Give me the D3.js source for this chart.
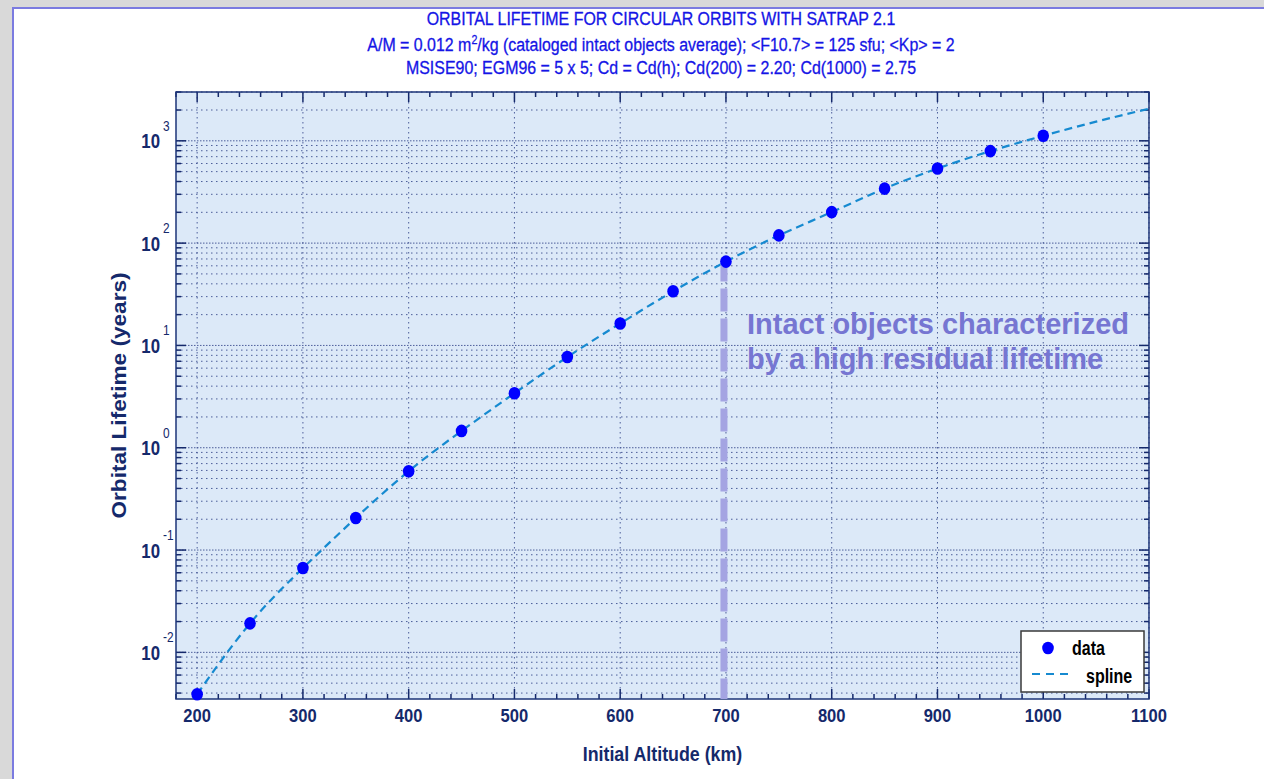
<!DOCTYPE html>
<html>
<head>
<meta charset="utf-8">
<script src="https://cdn.jsdelivr.net/npm/d3@7"></script>
<style>
	body { margin: 0; background: #d9d9d9; }
	svg { display: block; font-family: "Liberation Sans", Arial, sans-serif; }
</style>
</head>
<body>
<div class="content"></div>
<script>
var svgWidth = 1264;  // The width of the SVG element.
var svgHeight = 779;  // The height of the SVG element.

// Data points.
var altitudes = [200, 250, 300, 350, 400, 450, 500, 550, 600, 650, 700, 750, 800, 850, 900, 950, 1000];
var lifetimes = [0.0039, 0.0192, 0.0667, 0.206, 0.59, 1.46, 3.41, 7.7, 16.4, 33.8, 66, 119, 201, 341, 536, 793, 1119];

// The spline goes on past the last data point.
var splineAlt = [200, 250, 300, 350, 400, 450, 500, 550, 600, 650, 700, 750, 800, 850, 900, 950, 1000, 1050, 1100];
var splineLife = [0.0039, 0.0192, 0.0667, 0.206, 0.59, 1.46, 3.41, 7.7, 16.4, 33.8, 66, 119, 201, 341, 536, 793, 1119, 1540, 2060];

var xTickValues = [200, 300, 400, 500, 600, 700, 800, 900, 1000, 1100];
var yTickExponents = [-2, -1, 0, 1, 2, 3];

var titleLines = [
	"ORBITAL LIFETIME FOR CIRCULAR ORBITS WITH SATRAP 2.1",
	"A/M = 0.012 m|2|/kg (cataloged intact objects average); <F10.7> = 125 sfu; <Kp> = 2",
	"MSISE90; EGM96 = 5 x 5; Cd = Cd(h); Cd(200) = 2.20; Cd(1000) = 2.75"
];
var noteLines = ["Intact objects characterized", "by a high residual lifetime"];
var noteAltitude = 700;
var noteLifetime = 66;

var plot = {left: 176, right: 1149, top: 92, bottom: 699};
var navy = "#15296b";

var svg = d3.select(".content")
	.append("svg")
	.attr("width", svgWidth)
	.attr("height", svgHeight);

// Squeeze a text element to a fraction of its natural width.
function condense(sel, factor)
{
	sel.each(function() {
		var w = this.getComputedTextLength();
		d3.select(this).attr("textLength", w * factor).attr("lengthAdjust", "spacingAndGlyphs");
	});
}

// White page with a blue edge.
svg.append("rect")
	.attr("x", 13).attr("y", 8)
	.attr("width", svgWidth).attr("height", svgHeight)
	.attr("fill", "#ffffff")
	.attr("stroke", "#7b7be0")
	.attr("stroke-width", 2);

// Scales.
var x = d3.scaleLinear().domain([180, 1100]).range([plot.left, plot.right]);
var y = d3.scaleLog().domain([0.0035, 3000]).range([plot.bottom, plot.top]);

// Plot background.
svg.append("rect")
	.attr("x", plot.left).attr("y", plot.top)
	.attr("width", plot.right - plot.left).attr("height", plot.bottom - plot.top)
	.attr("fill", "#dce9f8");

// Minor log values inside the domain.
var yMinor = [];
for (var e = -3; e <= 3; e++)
{
	for (var k = 1; k <= 9; k++)
	{
		var v = k * Math.pow(10, e);
		if (v >= y.domain()[0] && v <= y.domain()[1]) yMinor.push({v: v, major: k === 1});
	}
}
var xMinor = d3.range(180, 1101, 20);

// Horizontal grid lines.
svg.append("g").selectAll("line")
	.data(yMinor)
	.enter().append("line")
	.attr("x1", plot.left).attr("x2", plot.right)
	.attr("y1", function(d) { return y(d.v); })
	.attr("y2", function(d) { return y(d.v); })
	.attr("stroke", "#34478a")
	.attr("stroke-opacity", 0.85)
	.attr("stroke-width", 1)
	.attr("stroke-dasharray", function(d) { return d.major ? "1.5,1.5" : "1.5,3.5"; });

// Vertical grid lines.
svg.append("g").selectAll("line")
	.data(xTickValues)
	.enter().append("line")
	.attr("x1", function(d) { return x(d); })
	.attr("x2", function(d) { return x(d); })
	.attr("y1", plot.top).attr("y2", plot.bottom)
	.attr("stroke", "#34478a")
	.attr("stroke-opacity", 0.85)
	.attr("stroke-dasharray", "1.5,3.5");

// Ticks on all four sides, pointing inwards.
var ticks = svg.append("g").attr("stroke", navy).attr("stroke-width", 1.5);
ticks.selectAll(".yl").data(yMinor).enter().append("line")
	.attr("x1", plot.left).attr("x2", function(d) { return plot.left + (d.major ? 10 : 5); })
	.attr("y1", function(d) { return y(d.v); }).attr("y2", function(d) { return y(d.v); });
ticks.selectAll(".yr").data(yMinor).enter().append("line")
	.attr("x1", plot.right).attr("x2", function(d) { return plot.right - (d.major ? 10 : 5); })
	.attr("y1", function(d) { return y(d.v); }).attr("y2", function(d) { return y(d.v); });
ticks.selectAll(".xt").data(xMinor).enter().append("line")
	.attr("x1", function(d) { return x(d); }).attr("x2", function(d) { return x(d); })
	.attr("y1", plot.top).attr("y2", function(d) { return plot.top + (d % 100 === 0 ? 10 : 5); });
ticks.selectAll(".xb").data(xMinor).enter().append("line")
	.attr("x1", function(d) { return x(d); }).attr("x2", function(d) { return x(d); })
	.attr("y1", plot.bottom).attr("y2", function(d) { return plot.bottom - (d % 100 === 0 ? 10 : 5); });

// Plot frame.
svg.append("rect")
	.attr("x", plot.left).attr("y", plot.top)
	.attr("width", plot.right - plot.left).attr("height", plot.bottom - plot.top)
	.attr("fill", "none")
	.attr("stroke", "#1d3478")
	.attr("stroke-width", 1.5);

// X tick labels.
svg.append("g").selectAll("text")
	.data(xTickValues)
	.enter().append("text")
	.attr("x", function(d) { return x(d); })
	.attr("y", 722)
	.attr("text-anchor", "middle")
	.attr("font-size", 18)
	.attr("font-weight", "bold")
	.attr("fill", navy)
	.text(function(d) { return d; })
	.call(condense, 0.92);

// Y tick labels as 10 with a raised exponent.
var yLabels = svg.append("g").selectAll("g")
	.data(yTickExponents)
	.enter().append("g")
	.attr("transform", function(d) { return "translate(160," + y(Math.pow(10, d)) + ")"; });
yLabels.append("text")
	.attr("y", 7.5)
	.attr("text-anchor", "end")
	.attr("font-size", 21)
	.attr("font-weight", "bold")
	.attr("fill", navy)
	.text("10")
	.call(condense, 0.8);
yLabels.append("text")
	.attr("x", 3)
	.attr("y", -10)
	.attr("font-size", 14)
	.attr("fill", navy)
	.text(function(d) { return d; })
	.call(condense, 0.85);

// Axis titles.
svg.append("text")
	.attr("x", (plot.left + plot.right) / 2)
	.attr("y", 761)
	.attr("text-anchor", "middle")
	.attr("font-size", 20)
	.attr("font-weight", "bold")
	.attr("fill", navy)
	.text("Initial Altitude (km)")
	.call(condense, 0.89);

svg.append("text")
	.attr("transform", "translate(126," + ((plot.top + plot.bottom) / 2) + ") rotate(-90)")
	.attr("text-anchor", "middle")
	.attr("font-size", 21)
	.attr("font-weight", "bold")
	.attr("fill", navy)
	.attr("textLength", 246)
	.attr("lengthAdjust", "spacingAndGlyphs")
	.text("Orbital Lifetime (years)");

// Chart title, three lines.
var titleY = [25, 51, 74];
var title = svg.append("g").selectAll("text")
	.data(titleLines)
	.enter().append("text")
	.attr("x", 661)
	.attr("y", function(d, i) { return titleY[i]; })
	.attr("text-anchor", "middle")
	.attr("font-size", 18)
	.attr("fill", "#1414e6")
	.attr("stroke", "#1414e6")
	.attr("stroke-width", 0.3);
title.each(function(d) {
	var parts = d.split("|");
	var t = d3.select(this);
	parts.forEach(function(p, i) {
		var span = t.append("tspan").text(p);
		if (i === 1) span.attr("font-size", 12).attr("dy", -7);
		if (i === 2) span.attr("dy", 7);
	});
});
title.call(condense, 0.885);

// Spline through the points.
var line = d3.line()
	.x(function(d, i) { return x(splineAlt[i]); })
	.y(function(d) { return y(d); })
	.curve(d3.curveNatural);
svg.append("path")
	.attr("d", line(splineLife))
	.attr("fill", "none")
	.attr("stroke", "#168ad0")
	.attr("stroke-width", 2.2)
	.attr("stroke-dasharray", "8,5");

// Dashed marker dropping from the 700 km point.
svg.append("line")
	.attr("x1", x(noteAltitude) - 2).attr("x2", x(noteAltitude) - 2)
	.attr("y1", y(noteLifetime) - 3).attr("y2", plot.bottom)
	.attr("stroke", "#a4a4e2")
	.attr("stroke-width", 7)
	.attr("stroke-dasharray", "23,7");

// Data points.
svg.append("g").selectAll("ellipse")
	.data(lifetimes)
	.enter().append("ellipse")
	.attr("cx", function(d, i) { return x(altitudes[i]); })
	.attr("cy", function(d) { return y(d); })
	.attr("rx", 5.8)
	.attr("ry", 6.3)
	.attr("fill", "#0000ff");

// Annotation text.
svg.append("g").selectAll("text")
	.data(noteLines)
	.enter().append("text")
	.attr("x", 747)
	.attr("y", function(d, i) { return 334 + i * 35; })
	.attr("font-size", 29)
	.attr("font-weight", "bold")
	.attr("fill", "#7676d2")
	.text(function(d) { return d; });

// Legend.
var legend = svg.append("g");
legend.append("rect")
	.attr("x", 1021).attr("y", 631)
	.attr("width", 123).attr("height", 61)
	.attr("fill", "#ffffff")
	.attr("stroke", "#3a3a3a")
	.attr("stroke-width", 1.5);
legend.append("ellipse")
	.attr("cx", 1048).attr("cy", 648)
	.attr("rx", 5.8).attr("ry", 6.3)
	.attr("fill", "#0000ff");
legend.append("line")
	.attr("x1", 1032).attr("x2", 1068)
	.attr("y1", 674).attr("y2", 674)
	.attr("stroke", "#168ad0")
	.attr("stroke-width", 2.2)
	.attr("stroke-dasharray", "8,6");
legend.append("text")
	.attr("x", 1072).attr("y", 655)
	.attr("font-size", 20).attr("font-weight", "bold")
	.attr("fill", "#000000")
	.text("data")
	.call(condense, 0.8);
legend.append("text")
	.attr("x", 1086).attr("y", 683)
	.attr("font-size", 20).attr("font-weight", "bold")
	.attr("fill", "#000000")
	.text("spline")
	.call(condense, 0.8);
</script>
</body>
</html>
